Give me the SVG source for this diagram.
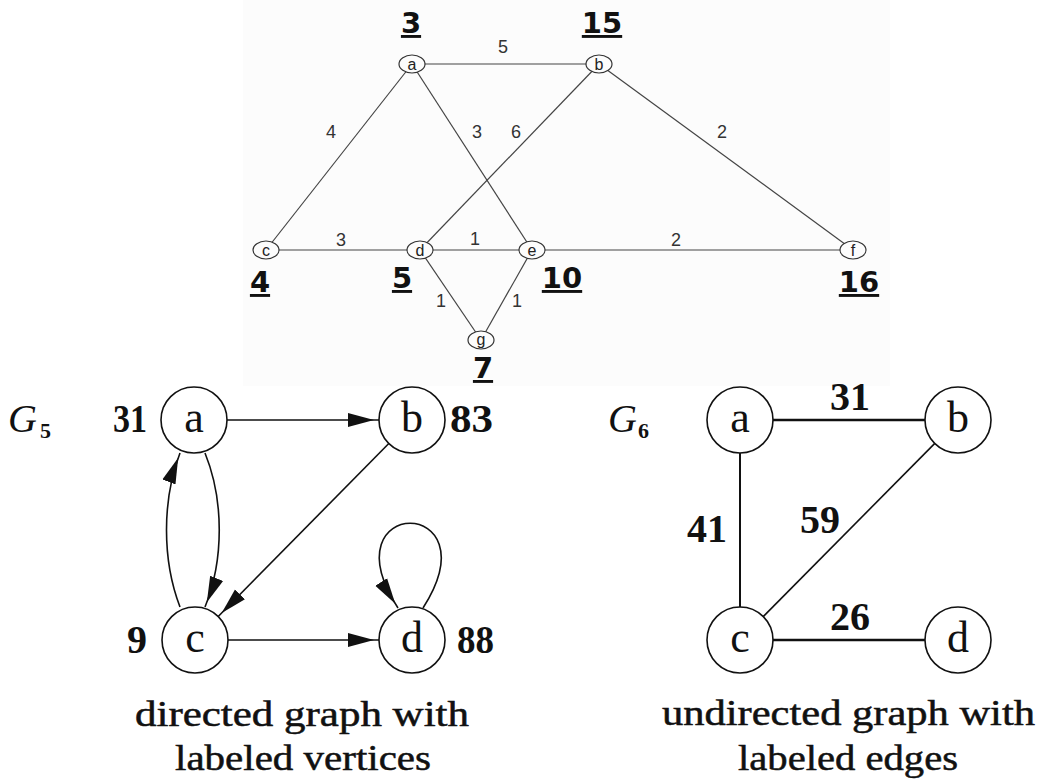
<svg xmlns="http://www.w3.org/2000/svg" width="1040" height="780" viewBox="0 0 1040 780">
<style>
.tn ellipse{fill:#fcfcfc;stroke:#333;stroke-width:1.2}
.tn text.l{font-family:"Liberation Sans",Arial,sans-serif;font-size:16px;fill:#222;text-anchor:middle}
.dist{font-family:"DejaVu Sans",sans-serif;font-weight:bold;font-size:29px;fill:#111;text-anchor:middle;text-decoration:underline}
.te line{stroke:#444;stroke-width:1.2}
.el{font-family:"Liberation Sans",Arial,sans-serif;font-size:18px;fill:#333;text-anchor:middle}
.bn circle{fill:#fff;stroke:#111;stroke-width:1.6}
.bl{font-family:"Liberation Serif","Times New Roman",serif;font-size:44px;fill:#111;text-anchor:middle}
.num{font-family:"Liberation Serif","Times New Roman",serif;font-weight:bold;font-size:40px;fill:#111}
.gt{font-family:"Liberation Serif","Times New Roman",serif;font-style:italic;font-size:40px;fill:#111}
.gs{font-family:"Liberation Serif","Times New Roman",serif;font-weight:bold;font-size:22px;fill:#111}
.be path,.be line{stroke:#111;fill:none;stroke-width:1.6}
.ue line{stroke:#111;fill:none}
.cap{font-family:"Liberation Serif","Times New Roman",serif;font-size:35px;fill:#111;stroke:#111;stroke-width:0.5}
</style>
<defs>
<marker id="arr" markerUnits="userSpaceOnUse" markerWidth="34" markerHeight="16" refX="31" refY="8" orient="auto">
<path d="M0,1 L26,8 L0,15 Z" fill="#111"/>
</marker>
</defs>
<rect x="0" y="0" width="1040" height="780" fill="#fff"/>
<rect x="243" y="0" width="647" height="386" fill="#fcfcfc"/>

<!-- top graph connectors -->
<g id="top-edges" class="te">
<line x1="412" y1="64" x2="599" y2="64"/>
<line x1="412" y1="64" x2="266" y2="250"/>
<line x1="412" y1="64" x2="532" y2="250"/>
<line x1="599" y1="64" x2="420" y2="250"/>
<line x1="599" y1="64" x2="853" y2="250"/>
<line x1="266" y1="250" x2="420" y2="250"/>
<line x1="420" y1="250" x2="532" y2="250"/>
<line x1="532" y1="250" x2="853" y2="250"/>
<line x1="420" y1="250" x2="481" y2="340"/>
<line x1="532" y1="250" x2="481" y2="340"/>
<text class="el" x="503" y="53">5</text>
<text class="el" x="331" y="138">4</text>
<text class="el" x="477" y="138">3</text>
<text class="el" x="516" y="138">6</text>
<text class="el" x="722" y="138">2</text>
<text class="el" x="341" y="246">3</text>
<text class="el" x="475" y="245">1</text>
<text class="el" x="676" y="246">2</text>
<text class="el" x="441" y="307">1</text>
<text class="el" x="517" y="307">1</text>
</g>

<g id="top-a" class="tn"><ellipse cx="412" cy="64" rx="13" ry="9"/><text class="l" x="412" y="70">a</text><text class="dist" x="411" y="33">3</text></g>
<g id="top-b" class="tn"><ellipse cx="599" cy="64" rx="13" ry="9"/><text class="l" x="599" y="70">b</text><text class="dist" x="602" y="33">15</text></g>
<g id="top-c" class="tn"><ellipse cx="266" cy="250" rx="13" ry="9"/><text class="l" x="266" y="256">c</text><text class="dist" x="260" y="292">4</text></g>
<g id="top-d" class="tn"><ellipse cx="420" cy="250" rx="13" ry="9"/><text class="l" x="420" y="256">d</text><text class="dist" x="402" y="288">5</text></g>
<g id="top-e" class="tn"><ellipse cx="532" cy="250" rx="13" ry="9"/><text class="l" x="532" y="256">e</text><text class="dist" x="562" y="288">10</text></g>
<g id="top-f" class="tn"><ellipse cx="853" cy="250" rx="13" ry="9"/><text class="l" x="853" y="256">f</text><text class="dist" x="859" y="292">16</text></g>
<g id="top-g" class="tn"><ellipse cx="481" cy="340" rx="13" ry="9"/><text class="l" x="481" y="345">g</text><text class="dist" x="483" y="378">7</text></g>

<!-- G5 -->
<g id="g5-title"><text class="gt" x="8" y="432">G</text><text class="gs" x="40" y="438">5</text></g>
<g id="g5-edges" class="be">
<line x1="227" y1="420" x2="379" y2="420" marker-end="url(#arr)"/>
<line x1="228" y1="640" x2="379" y2="640" marker-end="url(#arr)"/>
<line x1="388.8" y1="443.5" x2="218.2" y2="616.5" marker-end="url(#arr)"/>
<path d="M205,453 C224,500 224,560 205,607" marker-end="url(#arr)"/>
<path d="M180,607 C162,560 162,500 180,453" marker-end="url(#arr)"/>
<path d="M423,608 C495,495 325,495 398,608" marker-end="url(#arr)"/>
</g>
<g id="g5-a" class="bn"><circle cx="194" cy="420" r="33"/><text class="bl" x="194" y="432">a</text><text class="num" x="147" y="432" text-anchor="end" textLength="34" lengthAdjust="spacingAndGlyphs">31</text></g>
<g id="g5-b" class="bn"><circle cx="412" cy="420" r="33"/><text class="bl" x="412" y="432">b</text><text class="num" x="450" y="432" textLength="43" lengthAdjust="spacingAndGlyphs">83</text></g>
<g id="g5-c" class="bn"><circle cx="195" cy="640" r="33"/><text class="bl" x="195" y="652">c</text><text class="num" x="147" y="653" text-anchor="end">9</text></g>
<g id="g5-d" class="bn"><circle cx="412" cy="640" r="33"/><text class="bl" x="412" y="652">d</text><text class="num" x="457" y="653" textLength="37" lengthAdjust="spacingAndGlyphs">88</text></g>

<!-- G6 -->
<g id="g6-title"><text class="gt" x="608" y="432">G</text><text class="gs" x="638" y="438">6</text></g>
<g id="g6-edges" class="ue">
<line x1="773" y1="420" x2="925" y2="420" stroke-width="2.5"/>
<line x1="740" y1="453" x2="740" y2="607" stroke-width="2"/>
<line x1="934.8" y1="443.4" x2="763.2" y2="616.6" stroke-width="1.6"/>
<line x1="773" y1="640" x2="925" y2="640" stroke-width="2.5"/>
<text class="num" x="850" y="410" text-anchor="middle">31</text>
<text class="num" x="707" y="542" text-anchor="middle">41</text>
<text class="num" x="820" y="533" text-anchor="middle">59</text>
<text class="num" x="850" y="630" text-anchor="middle">26</text>
</g>
<g id="g6-a" class="bn"><circle cx="740" cy="420" r="33"/><text class="bl" x="740" y="432">a</text></g>
<g id="g6-b" class="bn"><circle cx="958" cy="420" r="33"/><text class="bl" x="958" y="432">b</text></g>
<g id="g6-c" class="bn"><circle cx="740" cy="640" r="33"/><text class="bl" x="740" y="652">c</text></g>
<g id="g6-d" class="bn"><circle cx="958" cy="640" r="33"/><text class="bl" x="958" y="652">d</text></g>

<!-- captions -->
<g id="captions">
<text class="cap" x="135" y="726" textLength="334" lengthAdjust="spacingAndGlyphs">directed graph with</text>
<text class="cap" x="175" y="770" textLength="256" lengthAdjust="spacingAndGlyphs">labeled vertices</text>
<text class="cap" x="662" y="725" textLength="373" lengthAdjust="spacingAndGlyphs">undirected graph with</text>
<text class="cap" x="738" y="770" textLength="220" lengthAdjust="spacingAndGlyphs">labeled edges</text>
</g>
</svg>
